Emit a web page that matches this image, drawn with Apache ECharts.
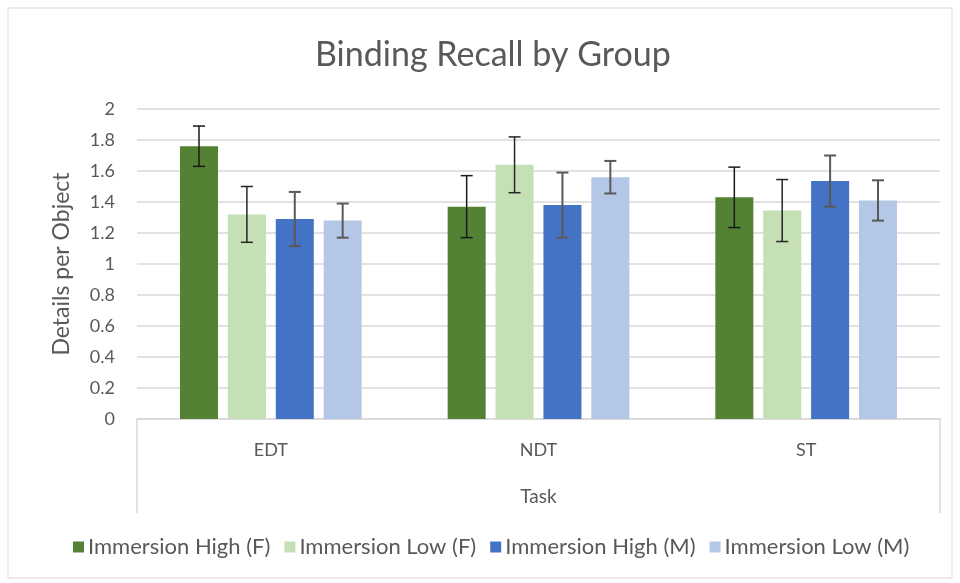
<!DOCTYPE html>
<html>
<head>
<meta charset="utf-8">
<script src="https://cdn.jsdelivr.net/npm/echarts@6/dist/echarts.min.js"></script>
<style>
  html, body { margin: 0; padding: 0; background: #fff; }
  #chart { width: 960px; height: 583px; }
</style>
</head>
<body>
<div id="chart"></div>
<script>
var categories = ['EDT', 'NDT', 'ST'];
var seriesNames = ['Immersion High (F)', 'Immersion Low (F)', 'Immersion High (M)', 'Immersion Low (M)'];

var highF = [1.76, 1.37, 1.43];
var lowF = [1.32, 1.64, 1.345];
var highM = [1.29, 1.38, 1.535];
var lowM = [1.28, 1.56, 1.41];

var errHighF = [0.13, 0.20, 0.195];
var errLowF = [0.18, 0.18, 0.20];
var errHighM = [0.175, 0.21, 0.165];
var errLowM = [0.11, 0.105, 0.13];

var colors = ['#548235', '#c5e0b4', '#4472c4', '#b4c7e7'];
var errColors = ['#1a1a1a', '#262626', '#595959', '#595959'];
var errWidths = [1.5, 1.5, 2, 2];

var values = [highF, lowF, highM, lowM];
var errors = [errHighF, errLowF, errHighM, errLowM];

var font = 'Lato, "Open Sans", sans-serif';
var barPct = 0.142;
var gapPct = 0.26;

var myChart = echarts.init(document.getElementById('chart'));

function errorSeries(k) {
  return {
    type: 'custom',
    name: seriesNames[k],
    z: 10,
    silent: true,
    data: categories.map(function (c, i) {
      return [i, values[k][i] - errors[k][i], values[k][i] + errors[k][i]];
    }),
    renderItem: function (params, api) {
      var band = api.size([1, 0])[0];
      var bw = band * barPct;
      var step = bw * (1 + gapPct);
      var offset = (k - 1.5) * step;
      var lo = api.coord([api.value(0), api.value(1)]);
      var hi = api.coord([api.value(0), api.value(2)]);
      var x = lo[0] + offset;
      var cap = 6;
      var style = { stroke: errColors[k], lineWidth: errWidths[k] };
      return {
        type: 'group',
        children: [
          { type: 'line', shape: { x1: x, y1: lo[1], x2: x, y2: hi[1] }, style: style },
          { type: 'line', shape: { x1: x - cap, y1: lo[1], x2: x + cap, y2: lo[1] }, style: style },
          { type: 'line', shape: { x1: x - cap, y1: hi[1], x2: x + cap, y2: hi[1] }, style: style }
        ]
      };
    }
  };
}

var series = [];
values.forEach(function (v, k) {
  series.push({
    name: seriesNames[k],
    type: 'bar',
    barWidth: (barPct * 100) + '%',
    barGap: (gapPct * 100) + '%',
    itemStyle: { color: colors[k] },
    data: v
  });
});
values.forEach(function (v, k) {
  series.push(errorSeries(k));
});

var option = {
  backgroundColor: '#fff',
  animation: false,
  textStyle: { fontFamily: font },
  title: {
    text: 'Binding Recall by Group',
    left: 310,
    top: 33,
    textStyle: { color: '#595959', fontSize: 34, fontWeight: 'normal', fontFamily: font }
  },
  legend: {
    data: seriesNames,
    bottom: 20,
    left: 68,
    itemWidth: 11,
    itemHeight: 11,
    itemGap: 14,
    icon: 'rect',
    textStyle: { color: '#595959', fontSize: 22, fontFamily: font, padding: [0, 0, 0, -1] }
  },
  grid: { left: 137, right: 20, top: 109, bottom: 164 },
  xAxis: {
    type: 'category',
    data: categories,
    name: 'Task',
    nameLocation: 'middle',
    nameGap: 68,
    nameTextStyle: { color: '#595959', fontSize: 19, fontFamily: font },
    axisLine: { lineStyle: { color: '#d9d9d9', width: 1.5 } },
    axisTick: { show: false },
    axisLabel: { color: '#595959', fontSize: 18, margin: 22, fontFamily: font }
  },
  yAxis: {
    type: 'value',
    min: 0,
    max: 2,
    interval: 0.2,
    name: 'Details per Object',
    nameLocation: 'middle',
    nameGap: 64,
    nameTextStyle: { color: '#595959', fontSize: 23, fontFamily: font },
    axisLine: { show: false },
    axisTick: { show: false },
    axisLabel: { color: '#595959', fontSize: 18, margin: 22, fontFamily: font },
    splitLine: { lineStyle: { color: '#d9d9d9', width: 1.5 } }
  },
  graphic: [
    {
      type: 'rect',
      shape: { x: 8, y: 8, width: 944, height: 570 },
      style: { fill: null, stroke: '#d9d9d9', lineWidth: 1 },
      silent: true
    },
    {
      type: 'line',
      shape: { x1: 137, y1: 419, x2: 137, y2: 513 },
      style: { stroke: '#d9d9d9', lineWidth: 1.5 },
      silent: true
    },
    {
      type: 'line',
      shape: { x1: 940, y1: 419, x2: 940, y2: 513 },
      style: { stroke: '#d9d9d9', lineWidth: 1.5 },
      silent: true
    }
  ],
  series: series
};

myChart.setOption(option);
</script>
</body>
</html>
